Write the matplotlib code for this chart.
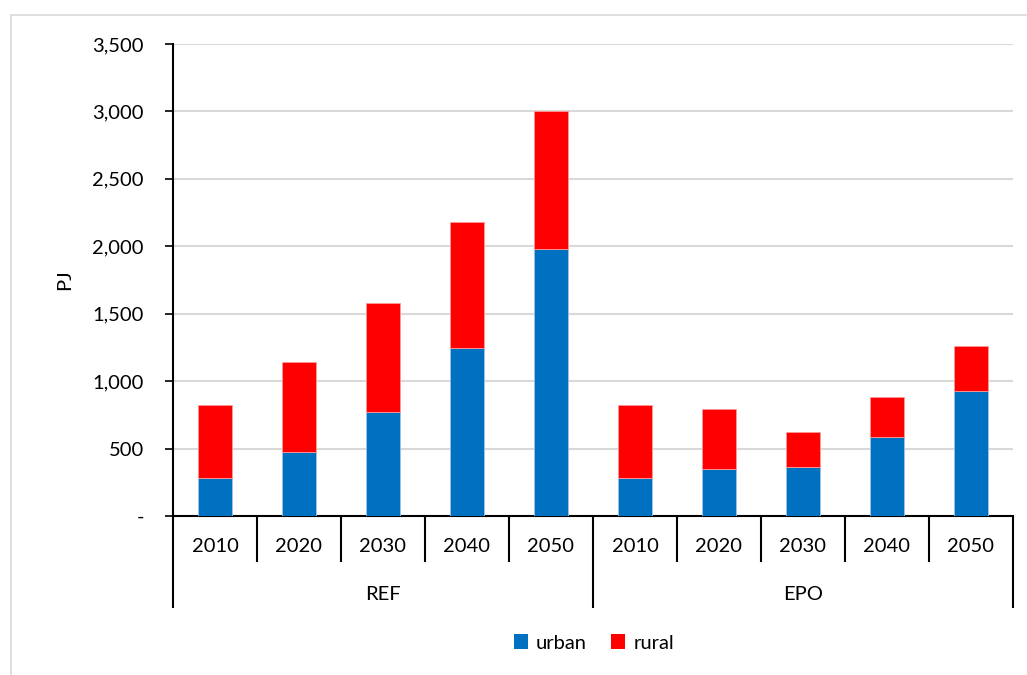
import matplotlib
matplotlib.use('Agg')
import matplotlib.pyplot as plt
import matplotlib.transforms as mtransforms
from matplotlib.patches import Rectangle, Patch
from matplotlib.ticker import FuncFormatter
import numpy as np

plt.rcParams['font.family'] = ['Lato', 'DejaVu Sans']

# values (PJ)
scenarios = ['REF', 'EPO']
years = ['2010', '2020', '2030', '2040', '2050']
urban_ref = [282, 475, 771, 1246, 1980]
rural_ref = [541, 667, 808, 934, 1023]
urban_epo = [282, 349, 363, 586, 927]
rural_epo = [541, 444, 260, 296, 333]

urban = urban_ref + urban_epo
rural = rural_ref + rural_epo
x = np.arange(len(urban))

W, H = 1027, 675
fig = plt.figure(figsize=(W / 100, H / 100), dpi=100)

# light grey chart frame (Excel style), only top and left edge inside the picture
fig.patches.append(Rectangle((11 / W, -0.2), 1.2, (H - 15) / H + 0.2, transform=fig.transFigure,
                             fill=False, edgecolor='#d9d9d9', linewidth=1.2))

ax = fig.add_axes([173 / W, (H - 516) / H, (1013 - 173) / W, (516 - 44) / H])

blue = '#0070C0'
red = '#FF0000'
ax.bar(x, urban, width=0.4, color=blue, edgecolor='#9dc3e6', linewidth=0.6, zorder=3)
ax.bar(x, rural, width=0.4, bottom=urban, color=red, edgecolor='#ff9999', linewidth=0.6, zorder=3)

ax.set_xlim(-0.5, len(x) - 0.5)
ax.set_ylim(0, 3500)
ax.set_yticks(np.arange(0, 3501, 500))
ax.yaxis.set_major_formatter(FuncFormatter(lambda v, p: '-' if v == 0 else f'{int(v):,}'))
ax.tick_params(axis='y', direction='out', length=6, width=1.2, pad=15, labelsize=14.5)
ax.set_xticks([])
ax.grid(axis='y', color='#d9d9d9', linewidth=1.5, zorder=0)

for s in ['top', 'right']:
    ax.spines[s].set_visible(False)
ax.spines['left'].set_linewidth(1.5)
ax.spines['bottom'].set_linewidth(1.5)
ax.spines['left'].set_bounds(0, 3500)

ax.set_ylabel('PJ', fontsize=14.5, labelpad=14)

# multi-level category axis
trans = mtransforms.blended_transform_factory(ax.transData, ax.transAxes)
y_year_line = (516 - 562) / 472
y_group_line = (516 - 608) / 472
for i in range(len(x) + 1):
    xe = i - 0.5
    bottom = y_group_line if i % len(years) == 0 else y_year_line
    ax.plot([xe, xe], [0, bottom], transform=trans, color='black', linewidth=1.5,
            clip_on=False, solid_capstyle='butt')
for i, xi in enumerate(x):
    ax.text(xi, (516 - 547) / 472, years[i % len(years)], transform=trans,
            ha='center', va='center', fontsize=14.5)
for g, name in enumerate(scenarios):
    xc = g * len(years) + (len(years) - 1) / 2
    ax.text(xc, (516 - 595) / 472, name, transform=trans, ha='center', va='center', fontsize=14.5)

handles = [Patch(facecolor=blue, label='urban'), Patch(facecolor=red, label='rural')]
fig.legend(handles=handles, loc='center', bbox_to_anchor=(594 / W, (H - 643) / H), ncol=2,
           frameon=False, fontsize=14.5, handlelength=0.7, handleheight=0.7,
           handletextpad=0.4, columnspacing=1.2)

fig.savefig('out.png', dpi=100, facecolor='white')
